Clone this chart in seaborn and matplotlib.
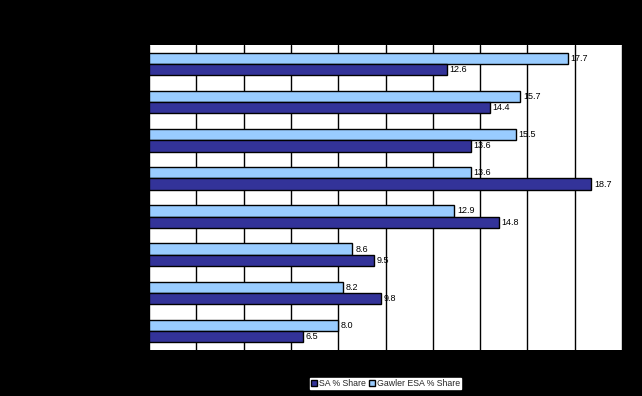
import pandas as pd
import numpy as np
import matplotlib
matplotlib.use('Agg')
import matplotlib.pyplot as plt
import seaborn as sns

# 카테고리 라벨은 원본에서 검은 배경에 검은 글씨라 읽을 수 없음
categories = ['Category 1', 'Category 2', 'Category 3', 'Category 4',
              'Category 5', 'Category 6', 'Category 7', 'Category 8']
gawler_share = [17.7, 15.7, 15.5, 13.6, 12.9, 8.6, 8.2, 8.0]
sa_share = [12.6, 14.4, 13.6, 18.7, 14.8, 9.5, 9.8, 6.5]
series = ['Gawler ESA % Share', 'SA % Share']

df = pd.DataFrame({
    'category': categories * 2,
    'share': gawler_share + sa_share,
    'series': [series[0]] * len(categories) + [series[1]] * len(categories),
})

sns.set_style('white')
plt.rcParams['font.family'] = ['Liberation Sans', 'DejaVu Sans']

fig = plt.figure(figsize=(6.42, 3.96), dpi=100, facecolor='black')
ax = fig.add_axes([149 / 642, 1 - 350 / 396, 473 / 642, 305 / 396])
ax.set_facecolor('white')

palette = {'Gawler ESA % Share': '#99CCFF', 'SA % Share': '#333399'}
sns.barplot(data=df, y='category', x='share', hue='series', order=categories,
            hue_order=series, palette=palette, orient='h', width=0.59,
            edgecolor='black', linewidth=1, saturation=1, ax=ax, zorder=3)

ax.set_xlim(0, 20)
ax.set_ylim(len(categories) - 0.5, -0.5)
ax.set_xticks(np.arange(0, 21, 2))
ax.xaxis.grid(True, color='black', linewidth=1, zorder=0)
ax.yaxis.grid(False)
ax.tick_params(colors='black', labelsize=7)
ax.set_xlabel('')
ax.set_ylabel('')
for s in ax.spines.values():
    s.set_visible(False)

for container in ax.containers:
    ax.bar_label(container, fmt='%.1f', padding=2, fontsize=6.5, color='black')

handles, labels = ax.get_legend_handles_labels()
ax.legend(handles[::-1], labels[::-1], loc='center', bbox_to_anchor=(385.5 / 642, 1 - 383.5 / 396),
          bbox_transform=fig.transFigure, ncol=2, fontsize=6.3, frameon=True, fancybox=False,
          edgecolor='white', facecolor='white', framealpha=1, borderpad=0.15,
          handlelength=0.7, handleheight=0.7, handletextpad=0.2, columnspacing=0.4,
          borderaxespad=0)

fig.savefig('out.png', dpi=100, facecolor='black')
